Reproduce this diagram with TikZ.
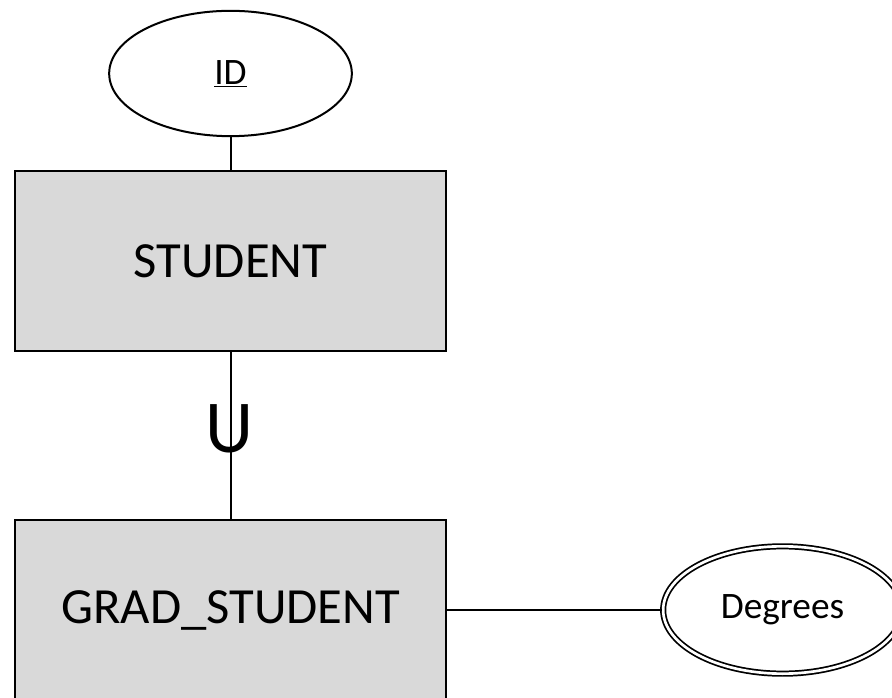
\documentclass[tikz,border=0pt]{standalone}
\usepackage{fontspec}
\setmainfont{Carlito}
\usetikzlibrary{shapes.geometric,positioning}
\definecolor{entgray}{RGB}{217,217,217}

\begin{document}
\begin{tikzpicture}[x=0.75pt,y=-0.75pt,
		line width=1.5pt,
		entity/.style={
			draw,
			fill=entgray,
			rectangle,
			minimum width=323pt,
			minimum height=135pt,
			inner sep=0pt,
			font=\fontsize{38}{42}\selectfont
		},
		attrib/.style={
			draw,
			ellipse,
			fill=white,
			inner sep=0pt,
			font=\fontsize{28}{31}\selectfont
		},
		multiattrib/.style={
			attrib,
			double,
			line width=1.3pt,
			double distance=2pt
		}
	]
	\useasboundingbox (0,0) rectangle (892,698);
	
	\node[entity] (student) at (230.5,261) {STUDENT};
	\node[entity] (grad) at (230.5,610) {GRAD\_STUDENT};
	
	\node[attrib,minimum width=182pt,minimum height=94pt] (id) at (230.5,73.5) {\underline{ID}};
	\node[multiattrib,minimum width=179pt,minimum height=95.5pt] (degrees) at (782.5,610) {Degrees};
	
	\draw (id) -- (student);
	\draw (student) -- (grad);
	\draw (grad) -- (degrees);
	
	% subclass symbol on the connector
	\node[inner sep=0pt,font=\fontsize{56}{60}\selectfont] (subset) at (229,429) {U};
\end{tikzpicture}
\end{document}
